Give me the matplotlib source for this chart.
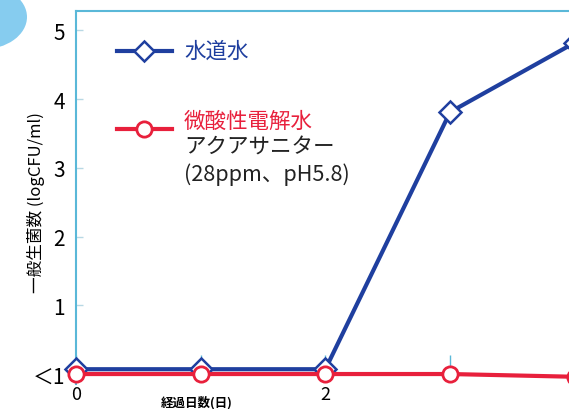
import matplotlib.pyplot as plt
from matplotlib.lines import Line2D
from matplotlib.patches import Circle

plt.rcParams['font.family'] = ['Noto Sans CJK JP', 'DejaVu Sans']

# data
days = [0, 1, 2, 3, 4]
tap_water = [0.07, 0.07, 0.07, 3.81, 4.82]
electrolyzed = [0.0, 0.0, 0.0, 0.0, -0.04]
x_ticks = [0, 1, 2, 3]
x_labels = ['0', '', '2', '']
y_ticks = [0, 1, 2, 3, 4, 5]
y_labels = ['＜1', '1', '2', '3', '4', '5']

blue = '#1f3f9f'
red = '#e8203c'
spine = '#5ab8d8'

fig = plt.figure(figsize=(5.69, 4.10), dpi=100)
ax = fig.add_axes([76/569, 1 - 385/410, 1 - 76/569, (385 - 12)/410])

ax.plot(days, tap_water, color=blue, lw=3, marker='D', ms=11,
        mfc='white', mec=blue, mew=1.8, clip_on=False, zorder=3)
ax.plot(days, electrolyzed, color=red, lw=3, marker='o', ms=11,
        mfc='white', mec=red, mew=2, clip_on=False, zorder=4)

ax.set_xlim(0, (569 - 76)/124.7)
ax.set_ylim(-0.145, 5.28)

ax.spines['right'].set_visible(False)
ax.spines['bottom'].set_visible(False)
ax.spines['bottom'].set_position(('data', 0))
ax.spines['left'].set_color(spine)
ax.spines['top'].set_color(spine)
ax.spines['left'].set_linewidth(1.5)
ax.spines['top'].set_linewidth(1.5)

ax.set_xticks(x_ticks)
ax.set_xticklabels(x_labels)
ax.set_yticks(y_ticks)
ax.set_yticklabels(y_labels)
ax.tick_params(axis='x', direction='in', length=14, width=1, color=spine,
               pad=8, labelsize=13)
ax.tick_params(axis='y', direction='in', length=5, width=1, color='#b8d8e4',
               pad=8, labelsize=15)

fig.text(36/569, 1 - 203/410, '一般生菌数 (logCFU/ml)', rotation=90,
         ha='center', va='center', fontsize=12)
fig.text(197/569, 1 - 403/410, '経過日数(日)', ha='center', va='center',
         fontsize=9, fontweight='bold')

# legend
def px(x, y):
    return x/569, 1 - y/410

lx, ly = zip(px(117, 52), px(172, 52))
fig.add_artist(Line2D(lx, ly, color=blue, lw=3, transform=fig.transFigure))
fig.add_artist(Line2D([px(144, 52)[0]], [px(144, 52)[1]], marker='D', ms=10,
                      mfc='white', mec=blue, mew=1.8, transform=fig.transFigure))
lx, ly = zip(px(117, 130), px(172, 130))
fig.add_artist(Line2D(lx, ly, color=red, lw=3, transform=fig.transFigure))
fig.add_artist(Line2D([px(144, 130)[0]], [px(144, 130)[1]], marker='o', ms=11,
                      mfc='white', mec=red, mew=2, transform=fig.transFigure))

fig.text(*px(184, 52), '水道水', color=blue, fontsize=15.5, va='center')
fig.text(*px(184, 122), '微酸性電解水', color=red, fontsize=15.5, va='center')
fig.text(*px(184, 148), 'アクアサニター', color='#222222', fontsize=15.5, va='center')
fig.text(*px(184, 175), '(28ppm、pH5.8)', color='#222222', fontsize=15.5, va='center')

# decorative circle in the corner
fig.add_artist(Circle(px(-18, 18), 45/569, transform=fig.transFigure,
                      facecolor='#86ccef', edgecolor='none'))

fig.savefig('out.png', dpi=100)
